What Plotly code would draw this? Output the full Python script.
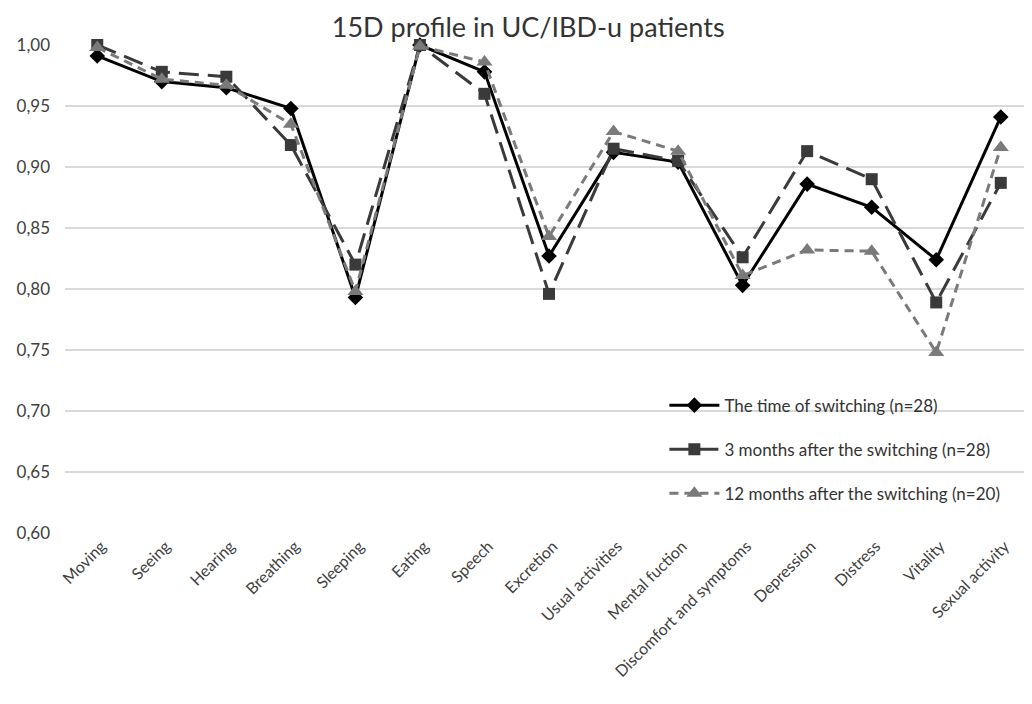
import plotly.graph_objects as go

categories = ["Moving", "Seeing", "Hearing", "Breathing", "Sleeping", "Eating", "Speech",
              "Excretion", "Usual activities", "Mental fuction", "Discomfort and symptoms",
              "Depression", "Distress", "Vitality", "Sexual activity"]

baseline = [0.991, 0.970, 0.965, 0.948, 0.793, 1.000, 0.978, 0.827, 0.912, 0.904, 0.803,
            0.886, 0.867, 0.824, 0.941]
month3 = [1.000, 0.978, 0.974, 0.918, 0.820, 1.000, 0.960, 0.796, 0.915, 0.905, 0.826,
          0.913, 0.890, 0.789, 0.887]
month12 = [0.998, 0.972, 0.967, 0.935, 0.798, 0.999, 0.986, 0.843, 0.929, 0.913, 0.811,
           0.832, 0.831, 0.748, 0.916]

names = ["The time of switching (n=28)", "3 months after the switching (n=28)",
         "12 months after the switching (n=20)"]
y_ticks = [0.60, 0.65, 0.70, 0.75, 0.80, 0.85, 0.90, 0.95, 1.00]

FONT = "Lato, Open Sans, sans-serif"

fig = go.Figure()
fig.add_trace(go.Scatter(
    x=categories, y=baseline, name=names[0], mode="lines+markers",
    line=dict(color="#000000", width=3),
    marker=dict(symbol="diamond", size=12, color="#000000"),
    cliponaxis=False, legendgroup="a"))
fig.add_trace(go.Scatter(
    x=categories, y=month3, name=names[1], mode="lines+markers",
    line=dict(color="#3a3a3a", width=3, dash="20px,9px"),
    marker=dict(symbol="square", size=12, color="#3a3a3a"),
    cliponaxis=False, legendgroup="b"))
fig.add_trace(go.Scatter(
    x=categories, y=month12, name=names[2], mode="lines+markers",
    line=dict(color="#7a7a7a", width=3, dash="9px,6px"),
    marker=dict(symbol="triangle-up", size=14, color="#7a7a7a"),
    cliponaxis=False, legendgroup="c"))

fig.update_layout(
    width=1016, height=688,
    paper_bgcolor="white", plot_bgcolor="white",
    separators=", ",
    margin=dict(l=57, r=0, t=37, b=163),
    title=dict(text="15D profile in UC/IBD-u patients", x=0.512, xanchor="center",
               y=0.972, yanchor="middle",
               font=dict(family=FONT, size=27, color="#333333")),
    font=dict(family=FONT, size=16, color="#404040"),
    showlegend=True,
    legend=dict(x=0.625, y=0.298, xanchor="left", yanchor="top",
                bgcolor="rgba(0,0,0,0)", tracegroupgap=19, itemwidth=50,
                font=dict(family=FONT, size=17, color="#333333")),
    xaxis=dict(showgrid=False, tickangle=-45, showline=False, ticks="",
               range=[-0.5, 14.36], ticklabelshift=4,
               tickfont=dict(family=FONT, size=16, color="#404040"), zeroline=False),
    yaxis=dict(range=[0.60, 1.00], tickvals=y_ticks, tickformat=".2f",
               showgrid=True, gridcolor="#d9d9d9", gridwidth=1.5, zeroline=False,
               showline=False, ticks="", ticklabelstandoff=14,
               tickfont=dict(family=FONT, size=17, color="#404040")),
)

fig.write_html("out.html")
